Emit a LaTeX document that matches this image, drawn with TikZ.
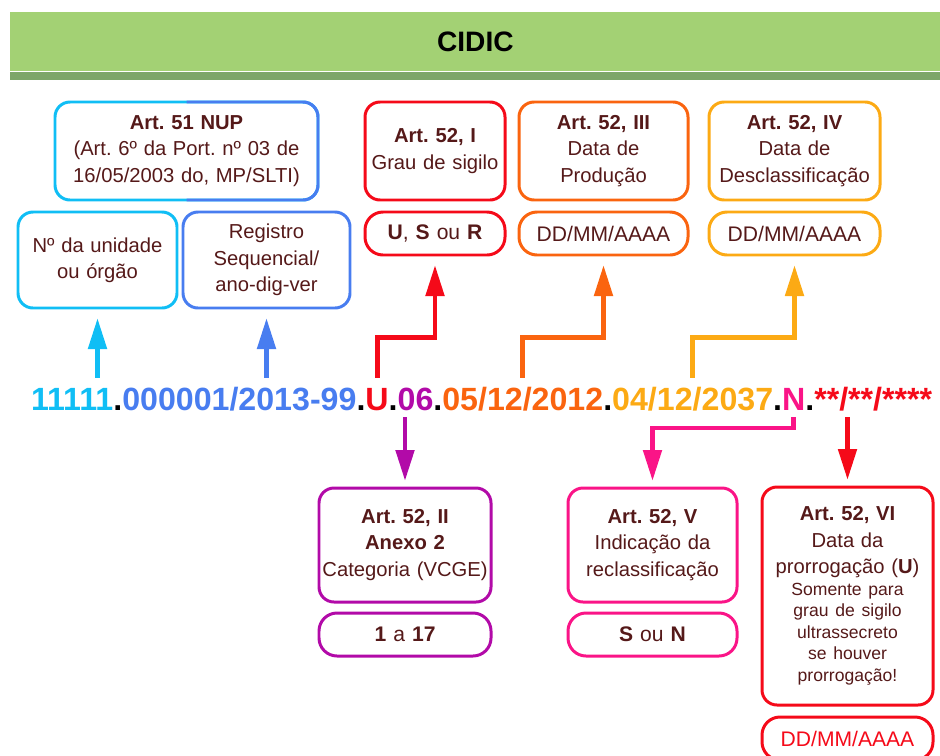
\documentclass[tikz,border=0pt]{standalone}
\usepackage{fontspec}
\setmainfont{Liberation Sans}
\usepackage{xcolor}
\usetikzlibrary{arrows.meta,positioning,calc}

\definecolor{hdrgreen}{RGB}{163,209,116}
\definecolor{hdrdark}{RGB}{125,166,105}
\definecolor{txt}{RGB}{85,25,25}
\definecolor{cCyan}{RGB}{16,190,245}
\definecolor{cBlue}{RGB}{72,125,240}
\definecolor{cRed}{RGB}{245,10,25}
\definecolor{cOrange}{RGB}{250,100,15}
\definecolor{cAmber}{RGB}{252,170,20}
\definecolor{cMagenta}{RGB}{178,10,168}
\definecolor{cPink}{RGB}{250,20,135}

\begin{document}
\frenchspacing
\begin{tikzpicture}[
    node distance=0.24cm,
    box/.style 2 args={rectangle, draw, line width=1.7pt, rounded corners=0.3cm, fill=white, inner xsep=0pt, outer sep=0pt, align=center, text=txt, text width=#1, minimum height=#2, font=\fontsize{11.5}{15}\selectfont},
    pill/.style={rectangle, draw, line width=1.7pt, rounded corners=0.36cm, fill=white, inner xsep=0pt, outer sep=0pt, align=center, text=txt, text width=#1, minimum height=0.86cm, font=\fontsize{12}{14}\selectfont},
    code/.style={inner sep=0pt, outer sep=0pt, anchor=base west, font=\fontsize{18.3}{20}\selectfont\bfseries},
    arrow/.style={line width=2.8pt, -{Triangle[length=0.62cm, width=0.36cm]}}
]
    \clip (0,0) rectangle (18.8,-15.1);

    % Header
    \node[fill=hdrgreen, minimum width=18.6cm, minimum height=1.18cm, anchor=north west, inner sep=0pt, font=\fontsize{16}{18}\selectfont\bfseries] (hdr) at (0.2,-0.24) {CIDIC};
    \fill[hdrdark] (hdr.south west) rectangle ++(18.6,-0.16);

    % NUP boxes
    \node[box={5.26cm}{1.96cm}, draw=cCyan, anchor=north] (nup) at (3.73,-2.04) {\textbf{Art. 51 NUP}\\(Art. 6º da Port. nº 03 de\\16/05/2003 do, MP/SLTI)};
    \begin{scope}
        \clip ($(nup.north)+(0,0.2)$) rectangle ($(nup.south east)+(0.2,-0.2)$);
        \draw[cBlue, line width=1.7pt, rounded corners=0.3cm] (nup.south west) rectangle (nup.north east);
    \end{scope}
    \node[box={3.18cm}{1.92cm}, draw=cCyan, anchor=north west] (unidbox) at (0.36,-4.24) {Nº da unidade\\ou órgão};
    \node[box={3.34cm}{1.92cm}, draw=cBlue, right=0.12cm of unidbox] (regbox) {Registro\\Sequencial/\\ano-dig-ver};

    % Top row
    \node[box={2.8cm}{1.96cm}, draw=cRed, anchor=north] (sigbox) at (8.7,-2.04) {\textbf{Art. 52, I}\\Grau de sigilo};
    \node[box={3.38cm}{1.96cm}, draw=cOrange, right=0.28cm of sigbox] (prodbox) {\textbf{Art. 52, III}\\Data de\\Produção};
    \node[box={3.42cm}{1.96cm}, draw=cAmber, right=0.42cm of prodbox] (descbox) {\textbf{Art. 52, IV}\\Data de\\Desclassificação};
    \node[pill=2.8cm, draw=cRed, below=of sigbox] (sigval) {\textbf{U}, \textbf{S} ou \textbf{R}};
    \node[pill=3.38cm, draw=cOrange, below=of prodbox] (prodval) {DD/MM/AAAA};
    \node[pill=3.42cm, draw=cAmber, below=of descbox] (descval) {DD/MM/AAAA};

    % Code line
    \node[code, text=cCyan] (unid) at (0.62,-8.2) {11111};
    \node[code] (d1) at (unid.base east) {.};
    \node[code, text=cBlue] (reg) at (d1.base east) {000001/2013-99};
    \node[code] (d2) at (reg.base east) {.};
    \node[code, text=cRed] (grau) at (d2.base east) {U};
    \node[code] (d3) at (grau.base east) {.};
    \node[code, text=cMagenta] (cat) at (d3.base east) {06};
    \node[code] (d4) at (cat.base east) {.};
    \node[code, text=cOrange] (prod) at (d4.base east) {05/12/2012};
    \node[code] (d5) at (prod.base east) {.};
    \node[code, text=cAmber] (desc) at (d5.base east) {04/12/2037};
    \node[code] (d6) at (desc.base east) {.};
    \node[code, text=cPink] (recl) at (d6.base east) {N};
    \node[code] (d7) at (recl.base east) {.};
    \node[code, text=cRed] (pror) at (d7.base east) {**/**/****};

    % Bottom row
    \node[box={3.44cm}{2.28cm}, draw=cMagenta, anchor=north] (catbox) at (8.1,-9.76) {\textbf{Art. 52, II}\\\textbf{Anexo 2}\\Categoria (VCGE)};
    \node[box={3.38cm}{2.28cm}, draw=cPink, anchor=north] (reclbox) at (13.05,-9.76) {\textbf{Art. 52, V}\\Indicação da\\reclassificação};
    \node[box={3.42cm}{4.36cm}, draw=cRed, anchor=north] (prorbox) at (16.95,-9.74) {\textbf{Art. 52, VI}\\Data da\\prorrogação (\textbf{U})\par
        \fontsize{10}{12.3}\selectfont Somente para\\grau de sigilo\\ultrassecreto\\se houver\\prorrogação!\par};
    \node[pill=3.44cm, draw=cMagenta, below=0.22cm of catbox] (catval) {\textbf{1} a \textbf{17}};
    \node[pill=3.38cm, draw=cPink, below=0.22cm of reclbox] (reclval) {\textbf{S} ou \textbf{N}};
    \node[pill=3.42cm, draw=cRed, text=cRed, below=0.24cm of prorbox] (prorval) {DD/MM/AAAA};

    % Arrows up
    \coordinate (up) at ($(unid.north)+(0,0.2)$);
    \draw[arrow, cCyan, shorten >=0.2cm] (up -| unidbox.south) -- (unidbox.south);
    \draw[arrow, cBlue, shorten >=0.2cm] (up -| regbox.south) -- (regbox.south);
    \draw[arrow, cRed, shorten >=0.2cm] (up -| grau) -- ++(0,0.8) -| (sigval.south);
    \draw[arrow, cOrange, shorten >=0.2cm] (up -| prod) -- ++(0,0.8) -| (prodval.south);
    \draw[arrow, cAmber, shorten >=0.2cm] (up -| desc) -- ++(0,0.8) -| (descval.south);

    % Arrows down
    \coordinate (dn) at ($(unid.base)+(0,-0.14)$);
    \draw[arrow, cMagenta, shorten >=0.14cm] (dn -| catbox.north) -- (catbox.north);
    \draw[arrow, cPink, shorten >=0.14cm] (dn -| recl) -- ++(0,-0.22) -| (reclbox.north);
    \draw[arrow, cRed, shorten >=0.14cm] (dn -| prorbox.north) -- (prorbox.north);
\end{tikzpicture}
\end{document}
